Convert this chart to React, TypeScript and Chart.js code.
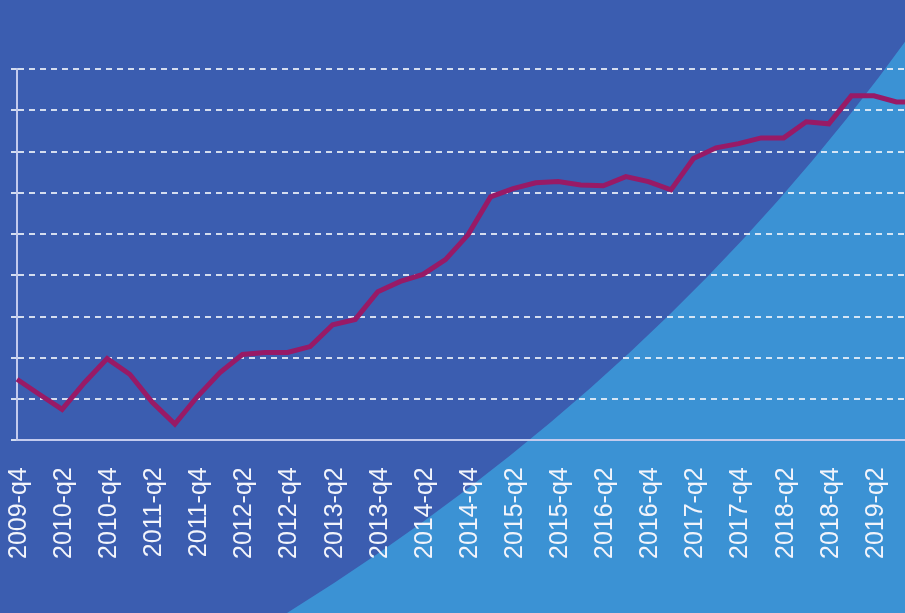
import { useEffect, useRef } from "react";
import { Chart, registerables } from "chart.js";

Chart.register(...registerables);

const quarters = [
  "2009-q4", "2010-q1", "2010-q2", "2010-q3", "2010-q4",
  "2011-q1", "2011-q2", "2011-q3", "2011-q4",
  "2012-q1", "2012-q2", "2012-q3", "2012-q4",
  "2013-q1", "2013-q2", "2013-q3", "2013-q4",
  "2014-q1", "2014-q2", "2014-q3", "2014-q4",
  "2015-q1", "2015-q2", "2015-q3", "2015-q4",
  "2016-q1", "2016-q2", "2016-q3", "2016-q4",
  "2017-q1", "2017-q2", "2017-q3", "2017-q4",
  "2018-q1", "2018-q2", "2018-q3", "2018-q4",
  "2019-q1", "2019-q2", "2019-q3", "2019-q4",
];

const values = [
  1.48, 1.11, 0.75, 1.4, 1.98,
  1.6, 0.92, 0.39, 1.06,
  1.64, 2.08, 2.13, 2.13,
  2.27, 2.8, 2.93, 3.6,
  3.85, 4.02, 4.38, 4.98,
  5.9, 6.1, 6.24, 6.27,
  6.19, 6.17, 6.39, 6.27,
  6.07, 6.83, 7.09, 7.19,
  7.33, 7.33, 7.72, 7.67,
  8.35, 8.35, 8.2, 8.2,
];

const yMin = 0;
const yMax = 9;
const yStep = 1;

const DARK = "#3b5db0";
const LIGHT = "#3b92d4";
const LINE = "#981a66";
const AXIS = "#c3cbee";
const GRID = "rgba(240,243,250,0.85)";

export default function App() {
  const ref = useRef<HTMLCanvasElement>(null);

  useEffect(() => {
    if (!ref.current) return;
    const bgPlugin = {
      id: "bgShape",
      beforeDraw(chart: any) {
        const { ctx, width, height } = chart;
        ctx.save();
        ctx.fillStyle = DARK;
        ctx.fillRect(0, 0, width, height);
        ctx.fillStyle = LIGHT;
        ctx.beginPath();
        ctx.moveTo(287, height);
        ctx.quadraticCurveTo(662, 380, 910, 35);
        ctx.lineTo(940, 0);
        ctx.lineTo(width, 0);
        ctx.lineTo(width, height);
        ctx.closePath();
        ctx.fill();
        ctx.restore();
      },
    };

    const chart = new Chart(ref.current, {
      type: "line",
      data: {
        labels: quarters,
        datasets: [
          {
            data: values,
            borderColor: LINE,
            borderWidth: 5,
            pointRadius: 0,
            tension: 0,
            fill: false,
          },
        ],
      },
      options: {
        animation: false,
        responsive: false,
        maintainAspectRatio: false,
        layout: { padding: { left: 11, right: 21, top: 69, bottom: 27 } },
        plugins: { legend: { display: false }, tooltip: { enabled: false } },
        scales: {
          x: {
            offset: false,
            afterFit: (s: any) => {
              s.paddingLeft = 0;
              s.paddingRight = 0;
            },
            grid: { display: false, drawTicks: false },
            border: { display: true, color: AXIS, width: 2 },
            ticks: {
              autoSkip: false,
              minRotation: 90,
              maxRotation: 90,
              padding: 27,
              labelOffset: 2,
              color: "#f2f4fb",
              font: { family: "'Liberation Sans', Arial, sans-serif", size: 25 },
              callback: (_v: any, i: number) => (i % 2 === 0 ? quarters[i] : ""),
            },
          },
          y: {
            min: yMin,
            max: yMax,
            ticks: { display: false, stepSize: yStep },
            grid: {
              color: (c: any) => (c.tick && c.tick.value === 0 ? "rgba(0,0,0,0)" : GRID),
              lineWidth: 2,
              drawTicks: true,
              tickLength: 6,
              tickColor: GRID,
              tickWidth: 2,
              tickBorderDash: [],
            },
            border: { display: true, color: AXIS, width: 2, dash: [6, 5] },
          },
        },
      },
      plugins: [bgPlugin],
    });
    return () => chart.destroy();
  }, []);

  return (
    <div
      style={{
        position: "absolute",
        left: 0,
        top: 0,
        width: 905,
        height: 613,
        overflow: "hidden",
        background: DARK,
      }}
    >
      <canvas ref={ref} width={940} height={613} style={{ display: "block" }} />
    </div>
  );
}
